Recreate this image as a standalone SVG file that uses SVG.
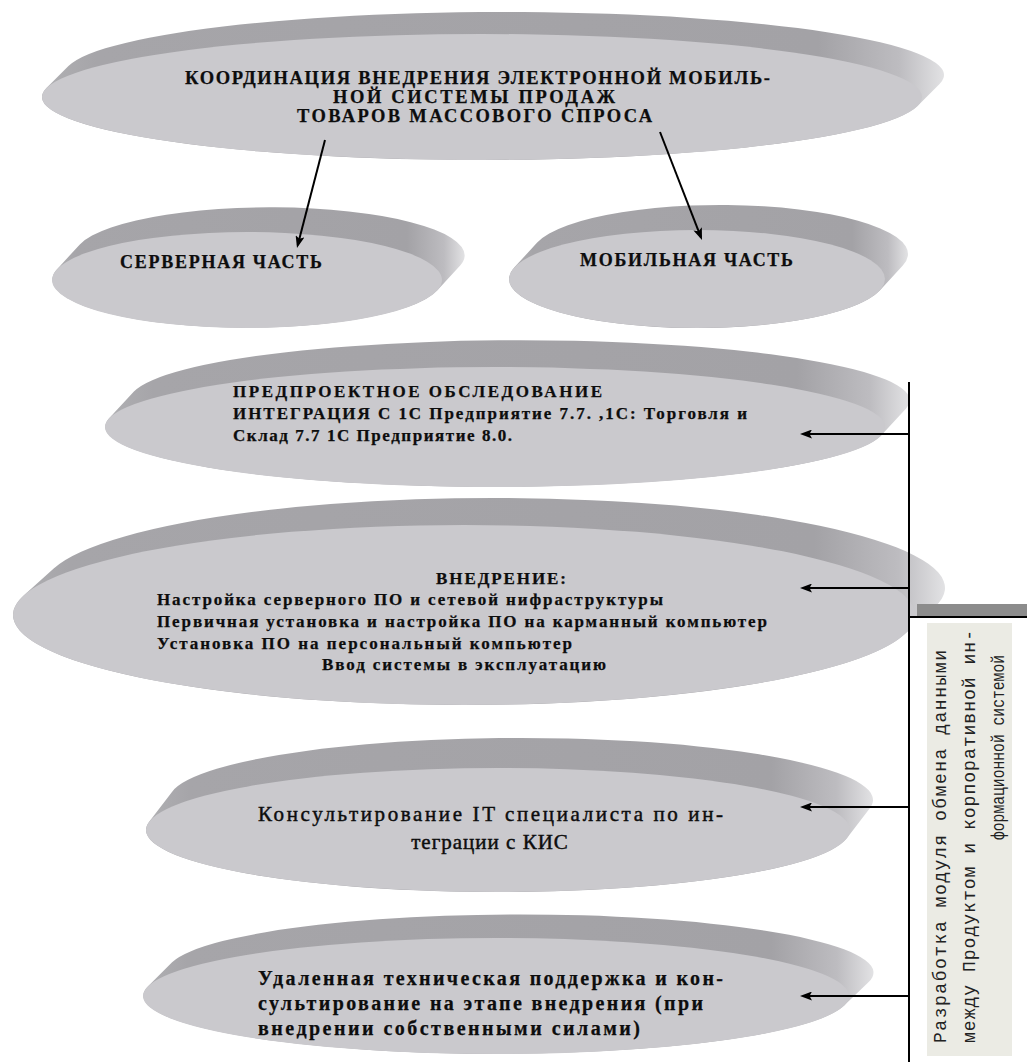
<svg xmlns="http://www.w3.org/2000/svg" width="1027" height="1062" viewBox="0 0 1027 1062">
  <defs>
    <!-- side of each disc: dark grey, catching light at the right end -->
    <linearGradient id="rimGrad" x1="0" y1="0" x2="1" y2="0">
      <stop offset="0" stop-color="#b0b0b3"/>
      <stop offset="0.06" stop-color="#a6a5a9"/>
      <stop offset="0.86" stop-color="#a3a2a6"/>
      <stop offset="0.95" stop-color="#bdbcc0"/>
      <stop offset="1" stop-color="#e2e2e4"/>
    </linearGradient>
    <marker id="arrow" viewBox="0 0 12 9" markerWidth="12" markerHeight="9" refX="9" refY="4.5" orient="auto" markerUnits="userSpaceOnUse">
      <path d="M0,0 L12,4.5 L0,9 L2.5,4.5 z" fill="#000"/>
    </marker>
  </defs>
  <style>
    .rim { fill: url(#rimGrad); }
    .face { fill: #cac9cd; }
    .t { font-family: "Liberation Serif", "Times New Roman", serif; font-weight: bold; fill: #0d0d0d; stroke: #0d0d0d; stroke-width: 0.25; }
    .tn { font-family: "Liberation Serif", "Times New Roman", serif; fill: #0d0d0d; stroke: #0d0d0d; stroke-width: 0.45; }
    .mono { font-family: "Liberation Mono", "Courier New", monospace; font-size: 18px; fill: #222; }
    .conn { stroke: #000; stroke-width: 2; fill: none; }
  </style>

  <rect width="1027" height="1062" fill="#fff"/>

  <!-- top: coordination -->
  <g id="coordination">
    <path class="rim" d="M46.44,88.07 A440,63 0 0,0 917.56,105.93 L939.56,83.93 A440,63 0 0,0 68.44,66.07 Z"/>
    <ellipse class="face" cx="482" cy="97" rx="440" ry="63"/>
    <text class="t" font-size="18.5" x="185" y="84" textLength="585" lengthAdjust="spacing">КООРДИНАЦИЯ ВНЕДРЕНИЯ ЭЛЕКТРОННОЙ МОБИЛЬ-</text>
    <text class="t" font-size="18.5" x="333" y="103" textLength="282" lengthAdjust="spacing">НОЙ СИСТЕМЫ ПРОДАЖ</text>
    <text class="t" font-size="18.5" x="297" y="122" textLength="355" lengthAdjust="spacing">ТОВАРОВ МАССОВОГО СПРОСА</text>
  </g>

  <!-- server part -->
  <g id="server">
    <path class="rim" d="M56.82,269.40 A195,48 0 0,0 437.18,290.60 L460.18,265.60 A195,48 0 0,0 79.82,244.40 Z"/>
    <ellipse class="face" cx="247" cy="280" rx="195" ry="48"/>
    <text class="t" font-size="18" x="120" y="268" textLength="202" lengthAdjust="spacing">СЕРВЕРНАЯ ЧАСТЬ</text>
  </g>

  <!-- mobile part -->
  <g id="mobile">
    <path class="rim" d="M514.18,267.57 A188,49 0 0,0 879.82,290.43 L902.82,265.43 A188,49 0 0,0 537.18,242.57 Z"/>
    <ellipse class="face" cx="697" cy="279" rx="188" ry="49"/>
    <text class="t" font-size="18" x="580" y="266" textLength="213" lengthAdjust="spacing">МОБИЛЬНАЯ ЧАСТЬ</text>
  </g>

  <!-- pre-project survey -->
  <g id="survey">
    <path class="rim" d="M108.90,418.54 A390,60 0 0,0 881.10,435.46 L906.10,408.46 A390,60 0 0,0 133.90,391.54 Z"/>
    <ellipse class="face" cx="495" cy="427" rx="390" ry="60"/>
    <text class="t" font-size="17" x="233" y="397" textLength="369" lengthAdjust="spacing">ПРЕДПРОЕКТНОЕ ОБСЛЕДОВАНИЕ</text>
    <text class="t" font-size="17" x="233" y="419" textLength="514" lengthAdjust="spacing">ИНТЕГРАЦИЯ С 1С Предприятие 7.7. ,1С: Торговля и</text>
    <text class="t" font-size="17" x="233" y="441" textLength="279" lengthAdjust="spacing">Склад 7.7 1С Предприятие 8.0.</text>
  </g>

  <!-- deployment -->
  <g id="deployment">
    <path class="rim" d="M23.69,595.52 A451,90 0 0,0 904.31,634.48 L934.31,607.48 A451,90 0 0,0 53.69,568.52 Z"/>
    <ellipse class="face" cx="464" cy="615" rx="451" ry="90"/>
    <text class="t" font-size="17" x="436" y="584" textLength="130" lengthAdjust="spacing">ВНЕДРЕНИЕ:</text>
    <text class="t" font-size="17" x="157" y="605" textLength="506" lengthAdjust="spacing">Настройка серверного ПО и сетевой нифраструктуры</text>
    <text class="t" font-size="17" x="157" y="627" textLength="610" lengthAdjust="spacing">Первичная установка и настройка ПО на карманный компьютер</text>
    <text class="t" font-size="17" x="157" y="649" textLength="415" lengthAdjust="spacing">Установка ПО на персональный компьютер</text>
    <text class="t" font-size="17" x="322" y="670" textLength="284" lengthAdjust="spacing">Ввод системы в эксплуатацию</text>
  </g>

  <!-- IT consulting -->
  <g id="consulting">
    <path class="rim" d="M149.16,821.70 A352,62 0 0,0 846.84,838.30 L869.84,808.30 A352,62 0 0,0 172.16,791.70 Z"/>
    <ellipse class="face" cx="498" cy="830" rx="352" ry="62"/>
    <text class="tn" font-size="21" x="258" y="821" textLength="465" lengthAdjust="spacing">Консультирование IT специалиста по ин-</text>
    <text class="tn" font-size="21" x="490" y="849" text-anchor="middle" letter-spacing="1">теграции с КИС</text>
  </g>

  <!-- remote support -->
  <g id="support">
    <path class="rim" d="M148.08,986.20 A353,58 0 0,0 843.92,1005.80 L867.92,982.80 A353,58 0 0,0 172.08,962.20 Z"/>
    <ellipse class="face" cx="496" cy="996" rx="353" ry="58"/>
    <text class="t" font-size="20" x="258" y="985" textLength="465" lengthAdjust="spacing">Удаленная техническая поддержка и кон-</text>
    <text class="t" font-size="20" x="258" y="1010" textLength="445" lengthAdjust="spacing">сультирование на этапе внедрения (при</text>
    <text class="t" font-size="20" x="258" y="1035" textLength="382" lengthAdjust="spacing">внедрении собственными силами)</text>
  </g>

  <!-- data exchange module box -->
  <g id="exchange-module">
    <rect x="917" y="604" width="115" height="12" fill="#8c8c8c"/>
    <rect x="909" y="617" width="130" height="450" fill="#fff" stroke="#000" stroke-width="2"/>
    <rect x="927" y="623" width="85" height="433" fill="#ebebe4"/>
    <text class="mono" transform="translate(946,1043) rotate(-90)" textLength="393" lengthAdjust="spacing">Разработка модуля обмена данными</text>
    <text class="mono" transform="translate(975,1043) rotate(-90)" textLength="413" lengthAdjust="spacing">между Продуктом и корпоративной ин-</text>
    <text class="mono" transform="translate(1004,840) rotate(-90)" textLength="185" lengthAdjust="spacingAndGlyphs">формационной системой</text>
  </g>

  <!-- connectors -->
  <g id="connectors">
    <line class="conn" x1="325" y1="140" x2="297.75" y2="245.1" marker-end="url(#arrow)"/>
    <line class="conn" x1="660" y1="132" x2="700.9" y2="237.2" marker-end="url(#arrow)"/>
    <line class="conn" x1="909" y1="382" x2="909" y2="1062" stroke-width="2.5"/>
    <line class="conn" x1="909" y1="434" x2="803" y2="434" marker-end="url(#arrow)"/>
    <line class="conn" x1="909" y1="588" x2="803" y2="588" marker-end="url(#arrow)"/>
    <line class="conn" x1="909" y1="807" x2="803" y2="807" marker-end="url(#arrow)"/>
    <line class="conn" x1="909" y1="996" x2="803" y2="996" marker-end="url(#arrow)"/>
  </g>
</svg>
